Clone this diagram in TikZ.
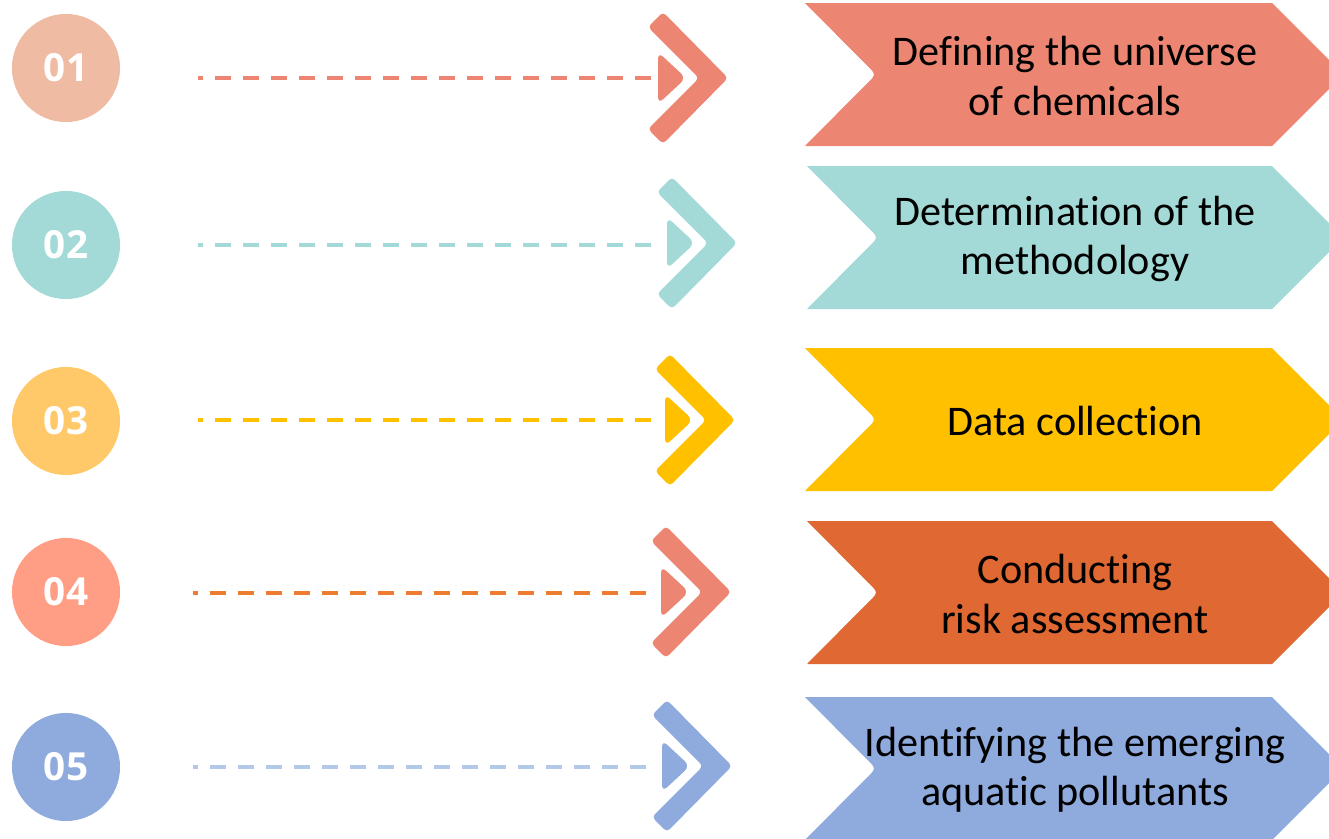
\documentclass[tikz,border=0pt]{standalone}
\usepackage{fontspec}
\setmainfont[RawFeature=-liga]{Carlito}
\newfontfamily\numfont{Open Sans}

% circle / dash / chevron / box colours per stage
\definecolor{circ1}{HTML}{F0BBA3}
\definecolor{circ2}{HTML}{A3DAD7}
\definecolor{circ3}{HTML}{FFC969}
\definecolor{circ4}{HTML}{FF9E85}
\definecolor{circ5}{HTML}{8FAADC}
\definecolor{line1}{HTML}{EC8572}
\definecolor{line2}{HTML}{A3DAD7}
\definecolor{line3}{HTML}{FFC000}
\definecolor{line4}{HTML}{ED7D31}
\definecolor{line5}{HTML}{B4C7E7}
\definecolor{chev1}{HTML}{EC8572}
\definecolor{chev2}{HTML}{A3DAD7}
\definecolor{chev3}{HTML}{FFC000}
\definecolor{chev4}{HTML}{EC8572}
\definecolor{chev5}{HTML}{8FAADC}
\definecolor{box1}{HTML}{EC8572}
\definecolor{box2}{HTML}{A3DAD7}
\definecolor{box3}{HTML}{FFC000}
\definecolor{box4}{HTML}{DF6833}
\definecolor{box5}{HTML}{8FAADC}

\begin{document}
\begin{tikzpicture}[x=0.01cm,y=-0.01cm,
		numdot/.style={circle,minimum size=1.08cm,inner sep=0pt,text=white,
			font=\numfont\bfseries\fontsize{11}{11}\selectfont},
		steplab/.style={align=center,text=black,font=\fontsize{12}{14}\selectfont},
		guide/.style={line width=0.4mm,dash pattern=on 1.6mm off 1.2mm,dash phase=1.1mm}]
		\useasboundingbox (0,0) rectangle (1329,839);
		\clip (0,0) rectangle (1329,839);
		% \cy circle, \dy/\dx/\ex dashes, \ax/\ay chevron, \ty/\lx box
		\foreach \i/\num/\cy/\dy/\dx/\ex/\ax/\ay/\ty/\lx/\txt in {
			1/01/68/78/198/651/714/78/3/805/{Defining the universe\\of chemicals},
			2/02/245/245/198/651/723/243/166/807/{Determination of the\\methodology},
			3/03/421/420/198/651/721/420/348/805/{Data collection},
			4/04/592/593/193/647/717/592/521/807/{Conducting\\risk assessment},
			5/05/767/767/193/647/718/766/697/805/{Identifying the emerging\\aquatic pollutants}}{
			%Number
			\node[numdot,fill=circ\i] (num\i) at (66,\cy) {\num};
			%Dashes
			\coordinate (gs\i) at (\dx,\dy);
			\coordinate (ge\i) at (\ex,\dy);
			\draw[guide,line\i] (gs\i) -- (ge\i);
			%Chevron
			\fill[chev\i,rounded corners=0.4mm] ({\ax-51},{\ay-66}) -- ({\ax+14},\ay) -- ({\ax-51},{\ay+66})
				-- ({\ax-66},{\ay+51}) -- ({\ax-15},\ay) -- ({\ax-66},{\ay-51}) -- cycle;
			\fill[chev\i,rounded corners=0.7mm] ({\ax-56},{\ay-26}) -- ({\ax-28},\ay) -- ({\ax-56},{\ay+26}) -- cycle;
			%Box
			\fill[box\i] (\lx,\ty) -- (1272,\ty) -- (1343.5,{\ty+71.5}) -- (1272,{\ty+143}) -- (\lx,{\ty+143})
				-- ({\lx+61},{\ty+81.5}) .. controls ({\lx+71.5},{\ty+71.5}) .. ({\lx+61},{\ty+61.5}) -- cycle;
			\node[steplab] (lab\i) at (1075,{\ty+73}) {\txt};
		}
\end{tikzpicture}
\end{document}
